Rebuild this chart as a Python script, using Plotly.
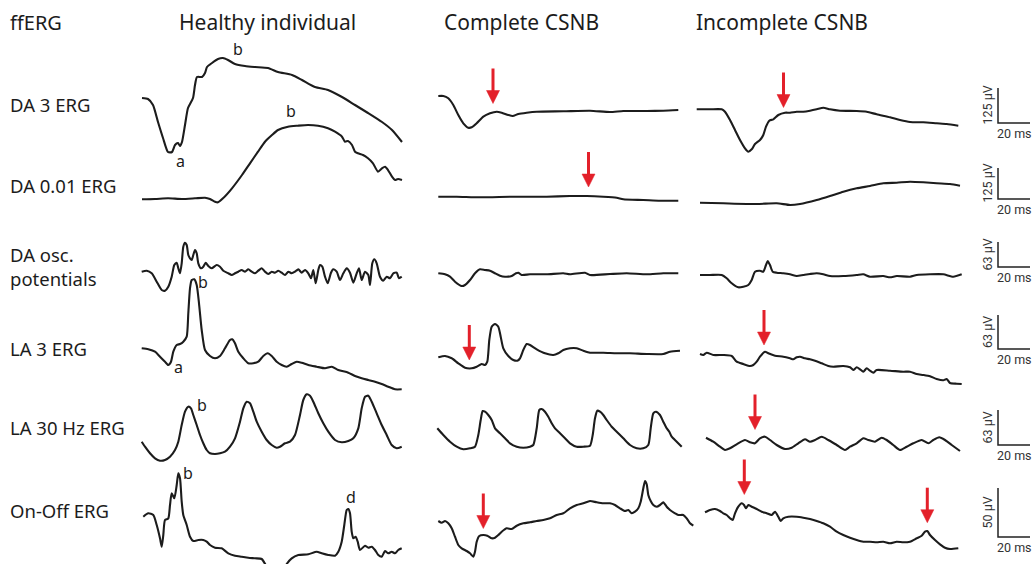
import plotly.graph_objects as go

# ---------------- column / row titles ----------------
columns = ["Healthy individual", "Complete CSNB", "Incomplete CSNB"]
rows = ["DA 3 ERG", "DA 0.01 ERG", "DA osc.<br>potentials", "LA 3 ERG", "LA 30 Hz ERG", "On-Off ERG"]
scale_amp = ["125 µV", "125 µV", "63 µV", "63 µV", "63 µV", "50 µV"]
scale_time = ["20 ms"] * 6

# ---------------- waveforms (time offset, amplitude) ----------------
# Healthy individual
H_DA3_t = [2, 8, 13, 18, 23, 28, 32, 35, 38, 40, 42, 45, 48, 53, 55, 57, 62, 65, 67, 72, 78, 83, 88, 95, 105, 115, 128, 138, 152, 162, 175, 188, 202, 215, 228, 242, 252, 262]
H_DA3_v = [2, 1, -5, -22, -38, -52, -52, -45, -43, -46, -42, -25, -8, 2, 15, 23, 23, 27, 33, 37, 41, 42, 40, 36, 34, 33, 32, 28, 25, 20, 13, 10, 3, -5, -13, -22, -30, -42]
H_DA001_t = [2, 15, 28, 42, 55, 65, 70, 75, 78, 83, 92, 102, 110, 118, 125, 132, 138, 148, 158, 168, 178, 188, 195, 202, 205, 208, 212, 215, 218, 223, 228, 233, 238, 242, 245, 248, 252, 255, 258, 262]
H_DA001_v = [0.7, 1, 1.7, 1, 1.7, 2.3, 1, -1.7, -2.3, 1.7, 11.7, 25, 36.7, 48.3, 58.3, 65, 70, 73.3, 74.3, 75, 74.3, 71.7, 68.3, 63.3, 58.3, 59, 55, 48.3, 46.7, 45, 41.7, 36.7, 28.3, 31.7, 33.3, 30, 23.3, 20, 21, 20]
H_OSC_t = [1.7, 6.7, 11.7, 16.7, 21.7, 25, 28.3, 31.7, 34.3, 36.7, 38.3, 40, 41.7, 43.3, 45, 46.7, 48.3, 50, 51.7, 53.3, 55, 56.7, 58.3, 61, 63.3, 65.7, 68.3, 71.7, 76.7, 80, 83.3, 88.3, 91.7, 95, 98.3, 101.7, 105, 108.3, 111.7, 115, 118.3, 121.7, 125, 128.3, 131.7, 135, 138.3, 141.7, 145, 148.3, 151.7, 155, 158.3, 161.7, 165, 168.3, 171, 173.3, 175.7, 178.3, 180, 182.3, 185, 187.7, 191, 193.3, 196.7, 200, 203.3, 206.7, 210, 213.3, 216.7, 219, 221.7, 225, 228.3, 230, 232.3, 234.3, 236.7, 240, 243.3, 246.7, 250, 253.3, 256.7, 259, 261.7]
H_OSC_v = [0.3, 1.3, -1.3, -9.7, -18, -18.7, -14.7, -4.7, 7, 9.3, 3.7, -1.3, 8.7, 25.3, 29.3, 27, 17, 13.7, 12, 17, 22, 18.7, 8.7, 3.7, 5.3, 9.3, 6, 3.7, 7, 5.3, 1.3, -1.3, -3, -1.3, 0.3, 2, 0.3, 2.7, 0.3, -1.3, 1.3, 3.7, 0.3, -2, 0.3, -0.7, 1.3, -0.7, -3, 0.3, -1.3, 0.3, 2.7, -0.7, 2, -1.3, -6.3, 2, -11.3, 2, 7, 5.3, -4.7, -11.3, -0.7, 2.7, 0.3, -8, -1.3, 3.7, -0.7, -10.7, -1.3, 3.7, -8, 0.3, -3, -13, 8.7, 12.7, 8.7, -4.7, -8.7, -4.7, -6.3, -1.3, -0.7, -6.3, -4.7]
H_LA3_t = [1.7, 8.3, 15, 20, 25, 28.3, 31, 33.3, 36.7, 40, 43.3, 46.7, 48.3, 50, 51.7, 54.3, 56.7, 59, 61.7, 65, 70, 75, 80, 85, 90, 92.3, 95, 98.3, 103.3, 108.3, 113.3, 118.3, 123.3, 127.7, 131.7, 136.7, 141.7, 146.7, 151.7, 156.7, 161.7, 168.3, 176.7, 185, 191.7, 198.3, 208.3, 215, 221.7, 228.3, 235, 241.7, 248.3, 255, 261.7]
H_LA3_v = [-0.3, -1.3, -3.7, -8.7, -13.7, -17, -13.7, -3.7, 3, 4, 6.3, 11.3, 34.7, 59.7, 68, 68.7, 63, 44.7, 18, -2, -8, -10.3, -8, -0.3, 8, 8.7, 4.7, -3.7, -10.3, -15.3, -15.3, -13.7, -8, -5.3, -8, -13.7, -17, -18.7, -16, -13.7, -14.7, -17, -18.7, -20.3, -18.7, -22, -24.7, -28, -30.3, -32, -33.7, -36, -38.7, -41.3, -41.3]
H_30HZ_t = [1.7, 5, 10, 15, 20, 25, 30, 35, 38.3, 41.7, 45, 48.3, 51, 53.3, 56.7, 60, 63.3, 66.7, 70, 75, 80, 85, 90, 95, 100, 103.3, 106.7, 110, 113.3, 116.7, 121.7, 126.7, 131.7, 136.7, 140, 145, 150, 155, 160, 163.3, 166.7, 170, 173.3, 178.3, 183.3, 188.3, 195, 201.7, 208.3, 213.3, 218.3, 221.7, 225, 228.3, 231.7, 236.7, 241.7, 246.7, 251.7, 256.7, 261.7]
H_30HZ_v = [-0.7, -5.7, -12.3, -17.3, -19.7, -19, -15.7, -9, -0.7, 16, 29.3, 34.3, 32.7, 26, 16, 6, -2.3, -9, -12.3, -13, -12.3, -10.7, -5.7, 2.7, 19.3, 32.7, 39.3, 37.7, 29.3, 19.3, 9.3, 1, -4, -6.7, -5.7, -2.3, -0.7, 6, 26, 41, 46.7, 45.3, 39.3, 27.7, 17.7, 9.3, 1, -1.3, 0, 2.7, 12.7, 32.7, 44.3, 45.3, 39.3, 27.7, 16, 6, -4, -7.3, -5.7]
H_ONOFF_t = [3.3, 8.3, 13.3, 16.7, 20, 21.7, 23.3, 25, 28.3, 30, 31.7, 34.3, 36.7, 38.3, 40, 41.7, 43.3, 46.7, 50, 53.3, 58.3, 63.3, 66.7, 70, 75, 81.7, 88.3, 95, 101.7, 108.3, 115, 121.7, 125.7, 131.7, 138.3, 143.3, 146.7, 151.7, 158.3, 168.3, 176.7, 181.7, 188.3, 195, 198.3, 201.7, 204.3, 206.7, 208.3, 210, 211.7, 213.3, 215.7, 217.7, 220, 225, 228.3, 231.7, 235, 238.3, 241.7, 245, 248.3, 251.7, 255, 258.3, 261.7]
H_ONOFF_v = [-1.7, 1.7, 0, -10, -23.3, -31.7, -20, -5, -3.3, 10, 21.7, 16.7, 30, 41.7, 36.7, 13.3, 0, -10, -21.7, -26, -25, -25, -26.7, -30, -32.7, -33.3, -38.3, -40.7, -41.7, -42.7, -43.3, -44, -50, -60, -61.7, -56.7, -49, -43.3, -40, -39.3, -36.7, -38.3, -40, -40.7, -36.7, -26.7, -10, 5, 6, 1.7, -16.7, -23.3, -21.7, -26.7, -35, -30.7, -32.7, -31.7, -35, -40, -41.7, -36, -38.3, -36.7, -38.3, -35, -33.3]

# Complete CSNB
C_DA3_t = [3.3, 8.3, 13.3, 18.3, 23.3, 28.3, 33.3, 36.7, 41.7, 48.3, 55, 61.7, 66.7, 73.3, 77.7, 83.3, 91.7, 101.7, 128.3, 155, 175, 188.3, 211.7, 228.3, 243.3]
C_DA3_v = [4, 4, 1.7, -5, -15, -23.3, -27.7, -27.3, -23.3, -16.7, -13.3, -11.7, -12.7, -15, -16, -14, -12.7, -11.7, -11.3, -10.7, -12, -11, -11, -10.7, -10]
C_DA001_t = [3.3, 21.7, 45, 78.3, 111.7, 135, 151.7, 168.3, 181.7, 188.3, 208.3, 225, 243.3]
C_DA001_v = [3.3, 3.3, 2.7, 3.3, 3.3, 4, 4, 3.3, 2.3, 0.7, 0, -0.7, -0.7]
C_OSC_t = [3.3, 10, 15, 20, 26.7, 30, 35, 40, 45, 50, 55, 60, 65, 70, 76.7, 81, 83.3, 86.7, 95, 111.7, 128.3, 135, 150, 155, 175, 191.7, 211.7, 228.3, 243.3]
C_OSC_v = [-0.3, -1.3, -3.7, -8.7, -13, -12, -7, -0.3, 3.7, 3, 2.3, -0.3, -2.7, -3.7, -3, -0.3, 0.3, -2, -1.3, -1.3, -0.3, -1.3, 0.3, -2, -1, -0.3, -1.3, -0.3, -0.3]
C_LA3_t = [3.3, 10, 16.7, 23.3, 30, 36.7, 41.7, 46.7, 50, 52.3, 54.3, 56.7, 60, 63.3, 65.7, 68.3, 73.3, 78.3, 82.3, 85, 88.3, 91.7, 95, 101.7, 110, 118.3, 123.3, 128.3, 135, 141.7, 148.3, 155, 168.3, 181.7, 195, 211.7, 228.3, 235, 245]
C_LA3_v = [-0.3, 1, -1.3, -6.3, -10.7, -11.3, -9.7, -7, -8, -4.7, 17, 30.3, 33, 30.3, 20.3, 8.7, 1, -3, -3.7, -1.3, 7, 13, 12, 7.7, 3.7, 2, 3.7, 7, 8.7, 8.7, 6.3, 4.3, 4.3, 3.7, 3.7, 3, 3, 5.3, 6.3]
C_30HZ_t = [2.3, 8.3, 15, 21.7, 28.3, 35, 40, 43.3, 45.7, 47.7, 50, 53.3, 56.7, 60, 65, 70, 75, 81.7, 88.3, 95, 98.3, 101.7, 104.3, 106.7, 110, 113.3, 116.7, 120, 125, 130, 135, 141.7, 148.3, 155, 157.7, 160, 162.3, 165, 168.3, 171.7, 176.7, 181.7, 188.3, 195, 201.7, 208.3, 213.3, 215.7, 218.3, 221, 225, 228.3, 231.7, 234.3, 236.7, 241.7, 246.7]
C_30HZ_v = [-0.3, -7, -13.7, -18.7, -21.3, -20.3, -18.7, -7, 8, 17, 16.3, 13, 8, -0.3, -5.3, -10.3, -15.3, -18.7, -19.7, -18.7, -17, -0.3, 18, 19, 16.3, 11.3, 4.7, -0.3, -5.3, -10.3, -15.3, -18.7, -18.7, -17.7, -7, 9.7, 17.3, 16.3, 13, 8, 1.3, -3.7, -10.3, -17, -20.3, -20.3, -17, -0.3, 14.7, 16.3, 13, 6.3, -0.3, -3.7, -8.7, -13.7, -18.7]
C_ONOFF_t = [3.3, 6.7, 10, 13.3, 16.7, 20, 23.3, 26.7, 31.7, 35, 38.3, 40, 41.7, 44.3, 48.3, 52.3, 56.7, 60, 63.3, 66.7, 71.7, 76.7, 81.7, 88.3, 95, 101.7, 108.3, 115, 121.7, 128.3, 135, 141.7, 148.3, 155, 161.7, 168.3, 175, 180, 185, 190, 193.3, 196.7, 200, 203.3, 205.7, 208.3, 210, 211.7, 213.3, 215.7, 218.3, 221.7, 225, 228.3, 231.7, 235, 240, 243.3, 248.3, 251.7, 255, 258.3]
C_ONOFF_v = [0, -1.7, 0, -2.3, -7.3, -15.7, -24, -27.3, -30, -32.3, -35.7, -30.7, -20.7, -15, -14, -14.7, -17.3, -16.7, -14, -10.7, -7.3, -8, -4.7, -2.3, -1.3, 0, 1, 2.7, 6, 7.7, 12.7, 16, 17.7, 20, 18.7, 17.7, 17.7, 16, 12.7, 10, 11, 7.7, 9.3, 12.7, 19.3, 32.7, 40, 36.7, 26, 20, 16, 14.3, 16, 18.7, 14.3, 11, 7.7, 6, 6, 2.7, -2.3, -4.7]

# Incomplete CSNB
I_DA3_t = [1.7, 15, 26.7, 30, 35, 40, 45, 50, 53.3, 56.7, 60, 65, 68.3, 71, 74.3, 78.3, 83.3, 90, 95, 101.7, 108.3, 115, 121.7, 128.3, 135, 145, 161.7, 171.7, 181.7, 195, 205, 215, 228.3, 241.7, 251.7, 263.3]
I_DA3_v = [0.7, 0.7, 0.7, -1.7, -10, -20, -30, -38.3, -41.7, -39.3, -34, -30, -25, -16.7, -10.7, -9.3, -5, -2.7, -2.7, -1.7, -1.7, -0.7, 0.7, 2.3, 0.7, -0.7, -1, -1.7, -4.3, -7.3, -10, -12, -12.3, -13.3, -14, -15.7]
I_DA001_t = [5, 28.3, 61.7, 81.7, 95, 105, 121.7, 135, 148.3, 161.7, 175, 188.3, 201.7, 215, 228.3, 241.7, 255, 265]
I_DA001_v = [0.3, -0.3, -1, -0.3, -2, -1, 3, 7, 11.3, 14.7, 17, 19.7, 20.3, 21.3, 20.7, 19.7, 19, 17.3]
I_OSC_t = [5, 15, 26.7, 31.7, 36.7, 43.3, 48.3, 53.3, 56.7, 60, 65, 68.3, 71, 72.7, 75, 77.7, 81.7, 88.3, 95, 101.7, 108.3, 115, 121.7, 128.3, 135, 148.3, 161.7, 168.3, 175, 188.3, 195, 201.7, 215, 221.7, 235, 248.3, 258.3, 266.7]
I_OSC_v = [0, 0, 0, -3.3, -8.3, -12.3, -11.7, -10, -5, 3.3, 4.3, 3.3, 10, 14, 10, 3.3, 2.3, 1.7, 0.7, -1, 0, 1, 1.7, 0.7, -1, -1, 0, 0.7, -1.7, -1, -2.3, -1, -1.7, 0, 0.7, 0.7, -1.7, 0.7]
I_LA3_t = [5, 8.3, 11.7, 18.3, 28.3, 36.7, 41.7, 48.3, 55, 58.3, 61.7, 65, 70, 73.3, 80, 88.3, 95, 98.3, 101.7, 105, 110, 115, 120, 126.7, 133.3, 138.3, 148.3, 155, 158.3, 161.7, 165, 168.3, 171.7, 175, 178.3, 181.7, 195, 208.3, 215, 221.7, 228.3, 235, 241.7, 248.3, 251.7, 255, 261.7, 266.7]
I_LA3_v = [0, -1, 1.3, -1, -1, -2, -7.7, -10, -12, -11, -7.7, -2.7, 2.3, 0.7, -1.7, -2.7, -4.3, -5.3, -3.3, -2.7, -4.3, -5.3, -6.7, -9.3, -12, -12.7, -12, -13.3, -16, -13.3, -15.3, -17.7, -14.3, -16.7, -18.7, -16, -16.7, -17.7, -17.7, -20, -21, -22.3, -25, -26.3, -25, -29, -29.7, -30]
I_30HZ_t = [11, 18.3, 25, 30, 35, 41.7, 50, 55, 60, 65, 70, 75, 81.7, 90, 96.7, 103.3, 110, 115, 120, 126.7, 133.3, 141.7, 150, 155, 161.7, 168.3, 173.3, 180, 186.7, 191.7, 198.3, 205, 211.7, 218.3, 226.7, 233.3, 238.3, 244.3, 250, 256.7, 265]
I_30HZ_v = [0.3, -3.7, -8.7, -12, -10.3, -6.3, -2, -4.3, -5.3, -0.3, 1.3, -2, -7, -11, -9.7, -5.3, -1.3, -3.7, -2, 1.3, -2, -7, -12, -8.7, -5.3, -0.3, -2, -3.7, 0.3, -2, -7, -12, -8.7, -5.3, -2, -5.3, -2, 0.7, -2, -7, -13]
I_ONOFF_t = [10, 15, 20, 25, 28.3, 31.7, 35, 37.7, 40, 43.3, 46.7, 49, 51, 53.3, 56.7, 61.7, 66.7, 71.7, 76.7, 80, 83.3, 85.7, 88.3, 93.3, 101.7, 108.3, 115, 121.7, 128.3, 135, 141.7, 148.3, 155, 161.7, 168.3, 175, 181.7, 188.3, 195, 201.7, 208.3, 215, 221.7, 226.7, 230, 232.3, 235, 240, 245, 250, 255, 263.3]
I_ONOFF_v = [-0.3, 2, 3, 1, -1.3, -3, -6.3, -8, -1.3, 5.3, 8.7, 7, 3.7, 7, 5.3, 3, 0.3, -1.3, -3, 0.3, -4.7, -9, -6.3, -4.7, -4.7, -5.7, -7, -9, -11.3, -14.7, -19.7, -23, -25.7, -28, -29.7, -29.7, -30.3, -29.7, -31.3, -29.7, -30.3, -29.7, -26.3, -23.7, -19.7, -19, -23, -28, -32.3, -35.7, -37, -36.3]

waveforms = {
    (0, 0): (H_DA3_t, H_DA3_v), (0, 1): (H_DA001_t, H_DA001_v), (0, 2): (H_OSC_t, H_OSC_v),
    (0, 3): (H_LA3_t, H_LA3_v), (0, 4): (H_30HZ_t, H_30HZ_v), (0, 5): (H_ONOFF_t, H_ONOFF_v),
    (1, 0): (C_DA3_t, C_DA3_v), (1, 1): (C_DA001_t, C_DA001_v), (1, 2): (C_OSC_t, C_OSC_v),
    (1, 3): (C_LA3_t, C_LA3_v), (1, 4): (C_30HZ_t, C_30HZ_v), (1, 5): (C_ONOFF_t, C_ONOFF_v),
    (2, 0): (I_DA3_t, I_DA3_v), (2, 1): (I_DA001_t, I_DA001_v), (2, 2): (I_OSC_t, I_OSC_v),
    (2, 3): (I_LA3_t, I_LA3_v), (2, 4): (I_30HZ_t, I_30HZ_v), (2, 5): (I_ONOFF_t, I_ONOFF_v),
}

# red arrows: (column, row, time offset, amplitude at tip)
arrows = [(1, 0, 58, -3.5), (1, 1, 153.5, 13), (2, 0, 88.5, 2.5), (1, 3, 34.3, -3),
          (2, 3, 69, 9), (2, 4, 60, 8.5), (1, 5, 48.3, -7.5), (2, 5, 49.3, 17.5), (2, 5, 232.3, -10.7)]

# wave component labels: (column, row, time offset, amplitude, text)
wave_labels = [(0, 0, 40, -61, "a"), (0, 0, 98, 51, "b"), (0, 1, 151, 89, "b"), (0, 3, 63, 66, "b"),
               (0, 3, 38, -19, "a"), (0, 4, 62, 36, "b"), (0, 5, 48, 42, "b"), (0, 5, 211, 18, "d")]

# ---------------- layout placement ----------------
COL_X = [140, 435, 695]
BASE = {
    (0, 0): 100, (0, 1): 200, (0, 2): 272, (0, 3): 348, (0, 4): 441, (0, 5): 515,
    (1, 0): 100, (1, 1): 200, (1, 2): 273, (1, 3): 357, (1, 4): 428, (1, 5): 521,
    (2, 0): 110, (2, 1): 203, (2, 2): 275, (2, 3): 354, (2, 4): 438, (2, 5): 512,
}
ROW_LABEL_Y = [104, 185, 266, 348, 427, 510]
SCALE_BARS = [(88, 123), (168, 199), (242, 267), (315, 349), (410, 445), (488, 537)]
HEADER_X = [267, 521, 782]

W, H = 1035, 564
FONT = "Noto Sans, Lato, sans-serif"
INK = "#1c1c1c"
RED = "#e3202a"

fig = go.Figure()
for (c, r), (t, v) in waveforms.items():
    x0, b = COL_X[c], BASE[(c, r)]
    fig.add_trace(go.Scatter(
        x=[x0 + ti for ti in t], y=[b - vi for vi in v], mode="lines",
        line=dict(color=INK, width=2.1, shape="spline", smoothing=0.6),
        hoverinfo="skip", showlegend=False))

shapes = []
annotations = []

# arrows
for c, r, t, v in arrows:
    x = COL_X[c] + t
    ytip = BASE[(c, r)] - v
    shapes.append(dict(type="line", x0=x, x1=x, y0=ytip - 35, y1=ytip - 11,
                       line=dict(color=RED, width=3)))
    shapes.append(dict(type="path", path=f"M{x-6.5},{ytip-13} L{x+6.5},{ytip-13} L{x},{ytip} Z",
                       fillcolor=RED, line=dict(color=RED, width=0.5)))

# wave labels
for c, r, t, v, s in wave_labels:
    annotations.append(dict(x=COL_X[c] + t, y=BASE[(c, r)] - v, text=s, showarrow=False,
                            font=dict(family=FONT, size=16, color=INK), xanchor="center", yanchor="middle"))

# headers
annotations.append(dict(x=8, y=22, text="ffERG", showarrow=False, xanchor="left", yanchor="middle",
                        font=dict(family=FONT, size=20, color=INK)))
for hx, txt in zip(HEADER_X, columns):
    annotations.append(dict(x=hx, y=22, text=txt, showarrow=False, xanchor="center", yanchor="middle",
                            font=dict(family=FONT, size=21, color=INK)))
for ry, txt in zip(ROW_LABEL_Y, rows):
    annotations.append(dict(x=8, y=ry, text=txt, showarrow=False, xanchor="left", yanchor="middle",
                            align="left", font=dict(family=FONT, size=18.5, color=INK)))

# scale bars
for (y0, y1), amp, tm in zip(SCALE_BARS, scale_amp, scale_time):
    shapes.append(dict(type="path", path=f"M998,{y0} L998,{y1} L1030,{y1}",
                       line=dict(color="#222", width=1.5)))
    annotations.append(dict(x=987, y=(y0 + y1) / 2, text=amp, textangle=-90, showarrow=False,
                            xanchor="center", yanchor="middle",
                            font=dict(family="Liberation Sans Narrow, Roboto, sans-serif", size=12.5, color="#333")))
    annotations.append(dict(x=1014, y=y1 + 10, text=tm, showarrow=False, xanchor="center", yanchor="middle",
                            font=dict(family="Liberation Sans Narrow, Roboto, sans-serif", size=12.5, color="#333")))

fig.update_layout(
    width=W, height=H, margin=dict(l=0, r=0, t=0, b=0),
    paper_bgcolor="white", plot_bgcolor="white",
    xaxis=dict(range=[0, W], visible=False, fixedrange=True),
    yaxis=dict(range=[H, 0], visible=False, fixedrange=True),
    shapes=shapes, annotations=annotations, showlegend=False,
)
fig.write_html("out.html")
